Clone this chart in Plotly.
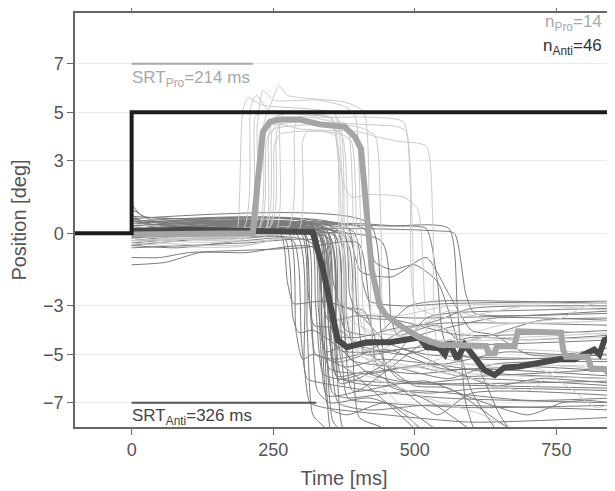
import plotly.graph_objects as go

# ---------------- data ----------------
stim_t = [-100, 0, 0, 850]
stim_y = [0, 0, 5, 5]

srt_pro = 214
srt_anti = 326
n_pro = 14
n_anti = 46

# individual anti-saccade traces: [time ms, position deg] knots
anti_traces = [
    [[0,0.2],[150,0.1],[262,0.0],[275,-2.0],[285,-2.9],[300,-2.9],[340,-2.8],[400,-3.3],[450,-4.5],[520,-5.0],[850,-5.2]],
    [[0,-0.3],[200,-0.2],[270,-0.2],[285,-3.5],[295,-4.1],[320,-4.0],[360,-4.6],[420,-5.8],[500,-6.2],[600,-6.0],[850,-6.3]],
    [[0,0.5],[100,0.2],[275,0.1],[290,-4.0],[302,-5.2],[320,-5.0],[380,-5.6],[450,-7.0],[520,-8.5]],
    [[0,-0.5],[80,-0.6],[200,-0.3],[285,-0.3],[300,-4.5],[310,-6.0],[340,-6.2],[420,-6.5],[550,-6.8],[850,-7.0]],
    [[0,0.1],[290,0.0],[305,-5.5],[315,-7.0],[340,-7.2],[450,-7.5],[600,-7.8],[850,-7.6]],
    [[0,0.3],[295,0.2],[310,-4.0],[320,-7.5],[340,-8.0],[360,-8.5]],
    [[0,1.0],[40,0.5],[140,0.4],[300,0.2],[315,-3.0],[325,-5.0],[360,-5.2],[450,-4.8],[550,-5.6],[700,-5.5],[850,-5.7]],
    [[0,0.0],[305,0.0],[318,-3.5],[328,-6.5],[350,-7.0],[420,-6.8],[500,-7.5],[560,-8.5]],
    [[0,0.3],[310,0.2],[325,-3.0],[338,-5.8],[360,-6.0],[480,-6.2],[850,-6.4]],
    [[0,-0.1],[315,0.0],[330,-3.2],[342,-4.9],[380,-4.6],[480,-5.0],[600,-4.3],[700,-4.4],[850,-4.2]],
    [[0,0.6],[60,0.4],[320,0.3],[335,-2.5],[348,-3.6],[400,-3.4],[500,-3.5],[850,-3.3]],
    [[0,0.0],[320,0.1],[336,-4.0],[348,-7.2],[380,-7.5],[450,-7.0],[530,-8.5]],
    [[0,-1.3],[60,-1.2],[120,-0.8],[200,-0.8],[322,-0.6],[338,-4.5],[350,-5.6],[420,-5.8],[520,-5.4],[650,-5.8],[850,-6.0]],
    [[0,0.4],[325,0.2],[340,-3.0],[355,-6.6],[380,-6.8],[500,-6.5],[700,-6.9],[850,-6.8]],
    [[0,0.2],[328,0.1],[342,-3.6],[356,-7.8],[380,-8.3]],
    [[0,-0.2],[330,-0.1],[345,-2.8],[358,-4.2],[400,-4.3],[470,-3.9],[560,-3.7],[850,-3.8]],
    [[0,0.1],[332,0.1],[348,-4.0],[362,-5.9],[420,-5.7],[480,-6.5],[540,-7.5],[600,-6.6],[850,-6.7]],
    [[0,0.7],[80,0.6],[335,0.3],[350,-3.0],[365,-4.8],[430,-4.9],[520,-4.7],[620,-5.2],[850,-5.0]],
    [[0,-0.6],[100,-0.5],[200,-0.4],[338,-0.4],[352,-5.0],[365,-7.0],[420,-7.3],[520,-7.1],[850,-7.3]],
    [[0,0.0],[340,0.0],[355,-3.5],[368,-6.2],[400,-6.0],[460,-5.2],[520,-3.5],[560,-3.3],[850,-3.1]],
    [[0,0.3],[342,0.2],[356,-2.0],[370,-3.0],[410,-3.2],[440,-5.0],[470,-6.0],[540,-6.2],[850,-6.1]],
    [[0,0.1],[345,0.1],[360,-4.5],[372,-8.0],[390,-8.5]],
    [[0,-0.3],[348,-0.2],[362,-3.8],[375,-5.5],[440,-5.2],[550,-5.4],[660,-4.9],[760,-5.0],[850,-4.7]],
    [[0,0.5],[350,0.3],[365,-3.0],[378,-4.0],[430,-4.2],[490,-3.0],[540,-2.8],[850,-2.9]],
    [[0,0.2],[355,0.1],[370,-4.2],[382,-6.8],[440,-7.0],[600,-7.2],[850,-7.1]],
    [[0,-0.1],[358,-0.1],[372,-3.0],[386,-5.2],[460,-5.5],[560,-6.0],[640,-5.4],[850,-5.3]],
    [[0,0.8],[30,0.3],[360,0.2],[376,-4.0],[390,-6.5],[460,-6.3],[530,-7.0],[620,-8.5]],
    [[0,0.0],[365,0.0],[380,-3.5],[392,-4.6],[460,-4.5],[540,-4.0],[640,-3.5],[850,-3.6]],
    [[0,0.4],[370,0.3],[385,-2.5],[400,-3.4],[470,-3.6],[580,-4.2],[850,-4.0]],
    [[0,-0.2],[375,-0.1],[390,-4.8],[402,-7.6],[440,-8.0],[470,-8.5]],
    [[0,1.2],[20,0.7],[100,0.6],[200,0.4],[380,0.3],[398,-3.0],[412,-5.0],[480,-4.8],[560,-5.6],[640,-6.3],[720,-6.0],[850,-6.2]],
    [[0,0.0],[390,0.1],[408,-2.0],[420,-2.8],[480,-3.0],[560,-2.9],[850,-2.8]],
    [[0,-1.0],[50,-1.0],[100,-0.8],[200,-0.7],[300,-0.6],[400,-0.4],[420,-3.0],[435,-5.5],[500,-5.8],[600,-5.6],[850,-5.9]],
    [[0,0.3],[410,0.2],[430,-1.2],[460,-1.5],[500,-1.3],[540,-2.0],[570,-4.0],[600,-6.5],[640,-8.0]],
    [[0,0.6],[420,0.4],[440,-4.0],[455,-6.3],[520,-6.6],[620,-6.4],[850,-6.5]],
    [[0,-0.4],[440,-0.3],[458,-3.5],[470,-4.2],[540,-3.8],[600,-5.0],[650,-7.5],[680,-8.5]],
    [[0,0.2],[100,0.3],[250,0.4],[400,0.4],[470,0.3],[520,0.2],[540,-2.0],[555,-4.5],[620,-4.3],[720,-3.6],[850,-3.5]],
    [[0,0.5],[150,0.5],[300,0.4],[450,0.3],[560,0.2],[575,-3.0],[590,-7.0],[610,-8.5]],
    [[0,0.1],[200,0.2],[400,0.2],[540,0.1],[570,0.0],[590,-2.5],[605,-3.3],[680,-3.4],[850,-3.2]],
    [[0,-0.1],[380,0.0],[395,-1.0],[405,-1.6],[460,-1.8],[520,-1.0],[560,-2.5],[600,-4.0],[640,-4.2],[700,-5.0],[850,-5.0]],
    [[0,0.0],[345,0.0],[360,-4.0],[372,-6.0],[440,-6.3],[520,-6.1],[600,-6.8],[700,-7.5],[760,-7.0],[800,-6.9],[850,-7.0]],
    [[0,0.3],[300,0.2],[312,-2.5],[322,-3.8],[360,-3.9],[400,-4.6],[450,-5.5],[500,-6.3],[560,-6.4],[650,-7.8],[700,-8.5]],
    [[0,-0.2],[333,-0.1],[346,-3.2],[358,-5.3],[400,-5.1],[480,-4.0],[540,-3.6],[600,-3.1],[850,-3.0]],
    [[0,0.1],[338,0.0],[352,-4.1],[364,-6.0],[410,-5.8],[500,-5.5],[580,-5.9],[700,-5.8],[850,-5.6]],
    [[0,0.4],[327,0.3],[340,-4.4],[352,-8.2],[365,-8.5]],
    [[0,-0.5],[318,-0.4],[333,-4.4],[345,-6.7],[400,-6.5],[460,-5.5],[520,-4.5],[600,-4.6],[850,-4.4]],
]

# individual pro-saccade traces
pro_traces = [
    [[0,-0.3],[180,-0.1],[186,0.0],[196,5.0],[205,5.6],[230,5.3],[330,5.1],[360,4.9],[372,2.0],[382,-3.5],[420,-4.0],[520,-4.4],[850,-4.3]],
    [[0,0.1],[195,0.1],[210,5.2],[220,5.7],[245,5.0],[350,4.8],[365,3.0],[378,-3.0],[400,-5.0],[500,-5.5],[600,-6.0],[700,-6.5],[760,-5.5],[850,-5.8]],
    [[0,-0.2],[210,-0.1],[222,4.5],[232,5.9],[250,5.5],[330,5.5],[380,5.2],[395,4.8],[405,0.0],[420,-5.0],[480,-5.6],[600,-4.8],[850,-5.0]],
    [[0,0.2],[214,0.1],[226,4.0],[236,4.4],[300,4.6],[350,4.4],[372,4.0],[384,-1.0],[398,-3.2],[470,-3.4],[560,-3.0],[850,-2.9]],
    [[0,-0.1],[220,0.0],[234,4.6],[244,5.2],[260,6.1],[275,5.7],[300,5.6],[380,5.4],[410,5.0],[420,0.0],[432,-6.0],[470,-7.0],[520,-8.5]],
    [[0,0.3],[225,0.2],[238,3.8],[250,4.3],[330,4.5],[400,4.4],[430,4.0],[440,0.5],[452,-4.0],[520,-3.8],[620,-4.3],[850,-4.1]],
    [[0,-0.4],[230,-0.3],[242,4.0],[252,4.8],[300,5.0],[350,4.8],[420,4.8],[480,4.6],[492,2.0],[502,-3.0],[560,-3.5],[700,-3.0],[850,-3.2]],
    [[0,0.0],[235,0.1],[248,4.2],[258,4.5],[300,4.3],[400,4.2],[430,4.0],[470,3.8],[520,3.6],[532,0.5],[545,-5.0],[620,-5.5],[720,-5.6],[780,-6.5],[820,-7.2],[850,-7.0]],
    [[0,0.2],[240,0.1],[252,3.6],[262,4.1],[340,4.2],[360,4.0],[372,2.2],[388,1.5],[420,1.6],[480,1.5],[505,1.0],[518,-3.0],[530,-5.5],[600,-5.8],[850,-6.0]],
    [[0,-0.3],[250,-0.2],[262,4.6],[270,5.0],[330,4.8],[365,4.7],[376,0.0],[386,-4.6],[440,-4.8],[500,-4.0],[560,-3.2],[650,-3.7],[850,-3.6]],
    [[0,0.1],[275,0.2],[288,4.4],[296,4.8],[360,4.6],[380,4.5],[392,0.0],[402,-5.0],[460,-5.5],[600,-5.4],[850,-5.5]],
    [[0,-0.1],[292,0.0],[302,3.8],[310,4.2],[370,4.1],[388,3.8],[398,-0.5],[410,-4.0],[470,-4.2],[560,-4.6],[680,-4.0],[850,-4.2]],
    [[0,0.0],[205,0.0],[218,4.8],[228,5.0],[300,4.9],[355,4.7],[366,-1.0],[376,-5.5],[430,-6.0],[520,-6.8],[620,-7.5],[700,-8.5]],
    [[0,0.4],[245,0.3],[256,4.2],[266,4.6],[320,4.6],[410,4.5],[470,4.4],[485,4.2],[496,0.0],[508,-4.5],[560,-4.4],[650,-3.8],[760,-3.5],[800,-3.0],[850,-2.8]],
]

# mean traces
pro_mean_t = [0, 100, 214, 222, 232, 244, 260, 297, 332, 376, 394, 405, 412, 424, 438, 450, 480, 508, 544,
              626, 630, 641, 645, 676, 682, 758, 762, 767, 805, 812, 835, 849]
pro_mean_y = [-0.05, -0.05, 0.0, 2.0, 4.2, 4.6, 4.7, 4.7, 4.5, 4.4, 4.0, 3.5, 1.6, -1.5, -3.0, -3.4, -3.9, -4.3, -4.6,
              -4.65, -4.95, -4.95, -4.65, -4.65, -4.05, -4.1, -4.8, -5.1, -5.1, -5.6, -5.6, -5.95]

anti_mean_t = [0, 100, 200, 320, 337, 353, 364, 380, 415, 456, 508, 521, 544, 553, 561, 575, 588, 605, 623, 641,
               658, 684, 720, 755, 782, 799, 817, 826, 835, 849]
anti_mean_y = [0.1, 0.15, 0.1, 0.05, -1.4, -3.2, -4.4, -4.7, -4.5, -4.5, -4.3, -4.7, -4.75, -5.0, -4.5, -5.2, -4.6,
               -5.1, -5.65, -5.85, -5.55, -5.5, -5.35, -5.2, -5.2, -5.0, -4.8, -5.0, -4.4, -4.3]

x_ticks = [0, 250, 500, 750]
y_ticks = [-7, -5, -3, 0, 3, 5, 7]

# ---------------- figure ----------------
PRO_C = "#cbcbcb"
ANTI_C = "#7b7b7b"
PRO_MEAN_C = "#a5a5a5"
ANTI_MEAN_C = "#4a4a4a"
TEXT_C = "#555555"
FONT = "Liberation Sans, Arial, Helvetica, sans-serif"

fig = go.Figure()

for tr in anti_traces:
    fig.add_trace(go.Scatter(x=[p[0] for p in tr], y=[p[1] for p in tr], mode="lines",
                             line=dict(color=ANTI_C, width=1, shape="spline", smoothing=0.6),
                             hoverinfo="skip", showlegend=False))
for tr in pro_traces:
    fig.add_trace(go.Scatter(x=[p[0] for p in tr], y=[p[1] for p in tr], mode="lines",
                             line=dict(color=PRO_C, width=1, shape="spline", smoothing=0.6),
                             hoverinfo="skip", showlegend=False))

fig.add_trace(go.Scatter(x=anti_mean_t, y=anti_mean_y, mode="lines",
                         line=dict(color=ANTI_MEAN_C, width=6), showlegend=False))
fig.add_trace(go.Scatter(x=pro_mean_t, y=pro_mean_y, mode="lines",
                         line=dict(color=PRO_MEAN_C, width=6), showlegend=False))

# stimulus
fig.add_trace(go.Scatter(x=stim_t, y=stim_y, mode="lines",
                         line=dict(color="#1c1c1c", width=4), showlegend=False))

# SRT bars
fig.add_trace(go.Scatter(x=[0, srt_pro], y=[7, 7], mode="lines",
                         line=dict(color="#a8a8a8", width=2), showlegend=False))
fig.add_trace(go.Scatter(x=[0, srt_anti], y=[-7, -7], mode="lines",
                         line=dict(color="#555555", width=2), showlegend=False))

fig.add_annotation(x=0, y=6.92, xref="x", yref="y", xanchor="left", yanchor="top",
                   text=f"SRT<sub>Pro</sub>={srt_pro} ms", showarrow=False,
                   font=dict(size=17, color="#a8a8a8", family=FONT), xshift=-2)
fig.add_annotation(x=0, y=-7.05, xref="x", yref="y", xanchor="left", yanchor="top",
                   text=f"SRT<sub>Anti</sub>={srt_anti} ms", showarrow=False,
                   font=dict(size=17, color="#444444", family=FONT), xshift=-2)
fig.add_annotation(x=0.983, y=0.975, xref="paper", yref="paper", xanchor="right", yanchor="middle",
                   text=f"n<sub>Pro</sub>={n_pro}", showarrow=False,
                   font=dict(size=17, color="#a8a8a8", family=FONT))
fig.add_annotation(x=0.983, y=0.918, xref="paper", yref="paper", xanchor="right", yanchor="middle",
                   text=f"n<sub>Anti</sub>={n_anti}", showarrow=False,
                   font=dict(size=17, color="#333333", family=FONT))

# page body adds an 8px margin, so the figure is sized to fit inside the window
fig.update_layout(
    width=607, height=483,
    margin=dict(l=67, r=2, t=5, b=64, autoexpand=False),
    paper_bgcolor="white", plot_bgcolor="white",
    font=dict(family=FONT, size=18, color=TEXT_C),
    showlegend=False,
)
fig.update_xaxes(range=[-100, 850], tickvals=x_ticks, ticks="outside", ticklen=6, tickcolor="#666666",
                 showgrid=False, zeroline=False, showline=True, linecolor="#666666", linewidth=1.5,
                 mirror="ticks", tickfont=dict(size=18, color=TEXT_C),
                 title=dict(text="Time [ms]", font=dict(size=20, color=TEXT_C), standoff=12))
fig.update_yaxes(range=[-8.0, 9.1], tickvals=y_ticks, ticks="outside", ticklen=6, tickcolor="#666666",
                 showgrid=True, gridcolor="#ebebeb", gridwidth=1, zeroline=False,
                 showline=True, linecolor="#666666", linewidth=1.5, mirror=True,
                 tickfont=dict(size=18, color=TEXT_C),
                 title=dict(text="Position [deg]", font=dict(size=20, color=TEXT_C), standoff=14))

fig.write_html("out.html")
